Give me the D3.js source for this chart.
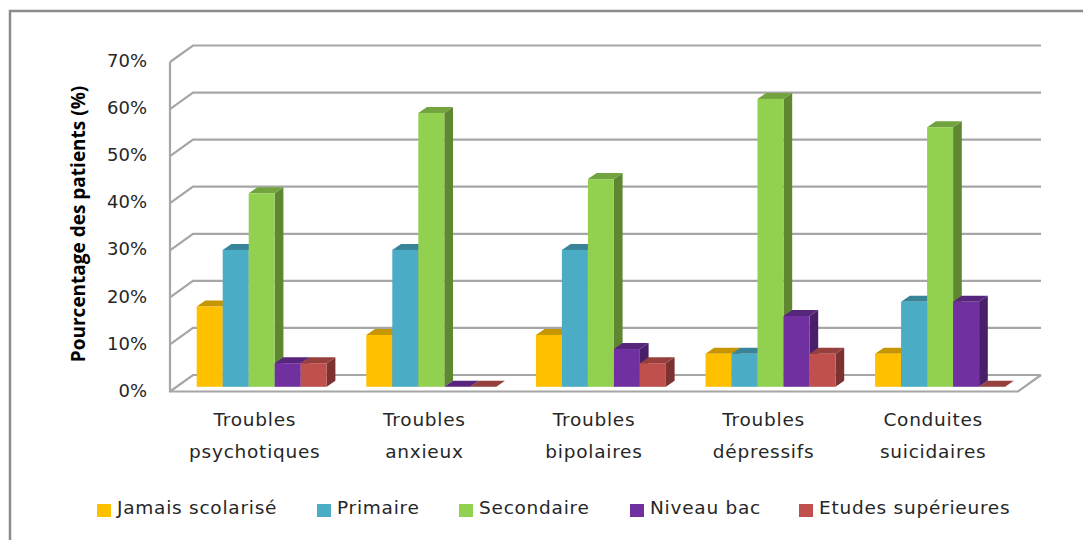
<!DOCTYPE html>
<html lang="fr">
<head>
<meta charset="utf-8">
<script src="https://cdn.jsdelivr.net/npm/d3@7/dist/d3.min.js"></script>
<style>
html,body{margin:0;padding:0;background:#fff;overflow:hidden}
svg{display:block}
text{font-family:"DejaVu Sans",sans-serif;fill:#262626}
</style>
</head>
<body>
<svg id="chart" width="1083" height="540"></svg>
<script>
// Psychiatric disorders by education level, clustered 3D-style columns
const categories = [["Troubles","psychotiques"],["Troubles","anxieux"],["Troubles","bipolaires"],["Troubles","dépressifs"],["Conduites","suicidaires"]];
const seriesNames = ["Jamais scolarisé","Primaire","Secondaire","Niveau bac","Etudes supérieures"];
const jamais = [17,11,11,7,7];
const primaire = [29,29,29,7,18];
const secondaire = [41,58,44,61,55];
const bac = [5,0,8,15,18];
const superieur = [5,0,5,7,0];
const seriesValues = [jamais,primaire,secondaire,bac,superieur];
const yTicks = [0,10,20,30,40,50,60,70];
const frontColors = ["#ffc000","#4bacc6","#92d050","#7030a0","#c0504d"];
const topColors = ["#c79500","#3a8499","#72a33e","#57257c","#95403c"];
const sideColors = ["#a67c00","#317083","#5f8732","#481f68","#7c3230"];

const svg = d3.select("#chart");
const gridColor = "#a6a6a6";

// Frame around the figure, open on the right and at the bottom
svg.append("path").attr("d","M10,540V11H1083").attr("fill","none")
   .attr("stroke","#8c8c8c").attr("stroke-width",2.5);

// Wall depth offset and the two value scales (front plane, bar plane)
const wallDx = 23, wallDy = -16.5;
const y = d3.scaleLinear().domain([0,70]).range([391.5,62]);
const yBar = d3.scaleLinear().domain([0,70]).range([386.8,56.4]);
const x = d3.scaleBand().domain(d3.range(categories.length)).range([170,1018]);
const inner = d3.scaleBand().domain(d3.range(seriesNames.length)).range([0,130]);
const barOffset = 26.7;
const depthX = 8.7, depthY = -6;

// Back wall gridlines with their diagonal return to the front plane
const grid = svg.append("g").attr("fill","none").attr("stroke",gridColor).attr("stroke-width",2.2);
yTicks.forEach(t => {
  grid.append("path").attr("d",
    `M${x.range()[0]},${y(t)}L${x.range()[0]+wallDx},${y(t)+wallDy}H${x.range()[1]+wallDx}`);
});
grid.append("path").attr("d",
  `M${x.range()[0]},${y(70)}V${y(0)}H${x.range()[1]}L${x.range()[1]+wallDx},${y(0)+wallDy}`);

// Value labels
const yAxis = svg.append("g").attr("transform",`translate(${x.range()[0]},0)`)
  .call(d3.axisLeft(y).tickValues(yTicks).tickSize(0).tickPadding(23).tickFormat(d => d + "%"));
yAxis.select(".domain").remove();
yAxis.selectAll("text").attr("fill","#262626").style("font-size","18px")
  .attr("dy","0.26em");

// Columns: left to right so each front covers the side of its neighbour
const cols = svg.append("g");
categories.forEach((c,i) => {
  seriesNames.forEach((s,j) => {
    const v = seriesValues[j][i];
    const x0 = x(i) + barOffset + inner(j), x1 = x0 + inner.bandwidth();
    const yt = yBar(v), yb = yBar(0);
    const g = cols.append("g");
    g.append("path").attr("fill",sideColors[j])
      .attr("d",`M${x1},${yt}L${x1+depthX},${yt+depthY}V${yb+depthY}L${x1},${yb}Z`);
    g.append("path").attr("fill",topColors[j])
      .attr("d",`M${x0},${yt}L${x0+depthX},${yt+depthY}H${x1+depthX}L${x1},${yt}Z`);
    g.append("rect").attr("fill",frontColors[j])
      .attr("x",x0).attr("y",yt).attr("width",x1-x0).attr("height",yb-yt);
  });
});

// Category labels on two lines
categories.forEach((lines,i) => {
  const t = svg.append("text").attr("text-anchor","middle")
    .style("font-size","18.5px").style("letter-spacing","0.75px");
  lines.forEach((l,k) => {
    t.append("tspan").attr("x",x(i)+x.bandwidth()/2).attr("y",426+k*31.5).text(l);
  });
});

// Axis title
svg.append("text").attr("transform","translate(85,224) rotate(-90)")
  .attr("text-anchor","middle")
  .style("font-family","'Open Sans',sans-serif").style("font-weight",700).style("font-size","19px")
  .style("fill","#000")
  .text("Pourcentage des patients (%)");

// Legend
const legendX = [97,317,459,630,799];
seriesNames.forEach((s,j) => {
  svg.append("rect").attr("x",legendX[j]).attr("y",504).attr("width",14).attr("height",13)
     .attr("fill",frontColors[j]);
  svg.append("text").attr("x",legendX[j]+20).attr("y",514)
     .style("font-size","18.5px").style("letter-spacing","0.75px").text(s);
});
</script>
</body>
</html>
